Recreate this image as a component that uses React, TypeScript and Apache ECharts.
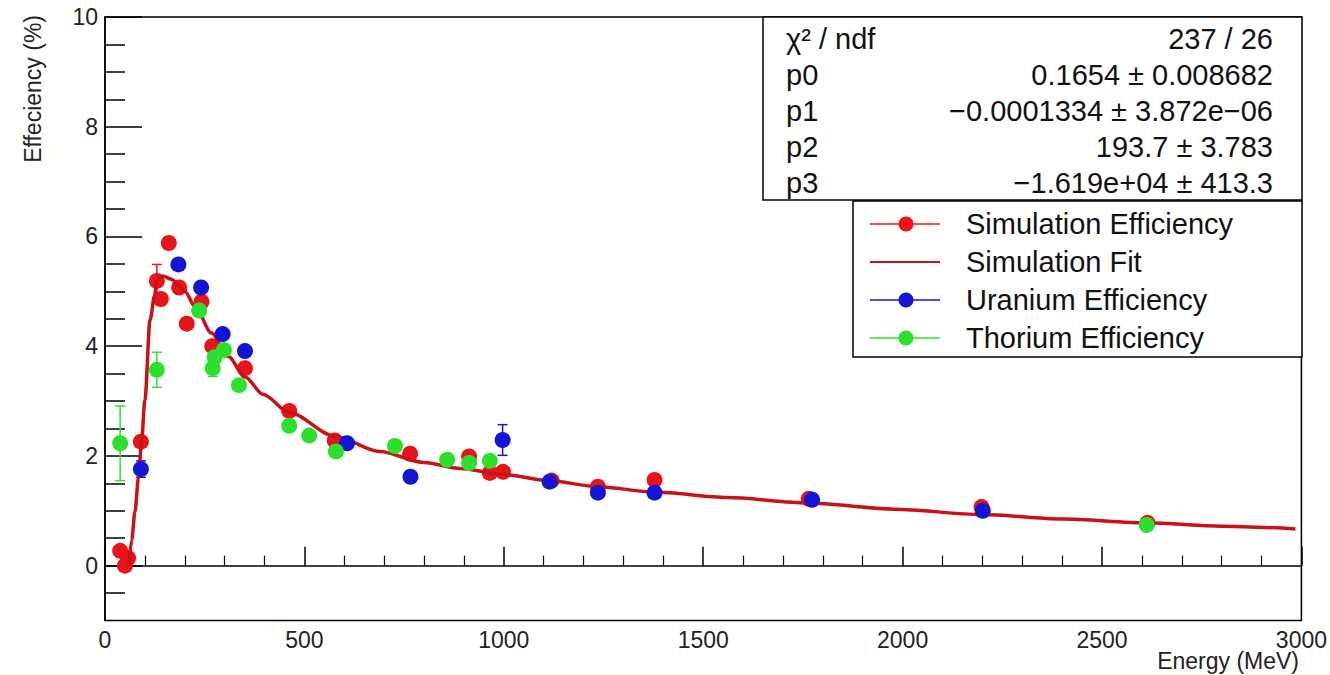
import React, { useEffect, useRef } from "react";
import * as echarts from "echarts";

// ---- data ----
const simEnergy = [38, 50, 58, 90, 130, 140, 160, 186, 205, 242, 269, 351, 462, 576, 765, 913, 965, 998, 1120, 1236, 1378, 1765, 2198, 2614];
const simEff = [0.27, 0.0, 0.14, 2.26, 5.19, 4.86, 5.88, 5.07, 4.41, 4.81, 4.0, 3.6, 2.82, 2.28, 2.04, 1.99, 1.69, 1.71, 1.55, 1.44, 1.56, 1.22, 1.07, 0.78];
const simErr = [0.05, 0.05, 0.05, 0.08, 0.3, 0.1, 0.1, 0.1, 0.1, 0.1, 0.1, 0.08, 0.06, 0.06, 0.06, 0.06, 0.05, 0.05, 0.05, 0.05, 0.05, 0.05, 0.05, 0.05];

const uraEnergy = [90, 184, 241, 295, 351, 607, 766, 997, 1115, 1236, 1378, 1773, 2201];
const uraEff = [1.76, 5.49, 5.07, 4.22, 3.91, 2.23, 1.62, 2.29, 1.53, 1.33, 1.33, 1.2, 1.0];
const uraErr = [0.15, 0.1, 0.08, 0.08, 0.06, 0.06, 0.05, 0.28, 0.04, 0.04, 0.04, 0.04, 0.04];

const thoEnergy = [38, 130, 236, 270, 275, 298, 336, 462, 512, 579, 727, 858, 913, 965, 2612];
const thoEff = [2.23, 3.57, 4.65, 3.6, 3.8, 3.93, 3.29, 2.55, 2.37, 2.08, 2.18, 1.93, 1.87, 1.91, 0.74];
const thoErr = [0.68, 0.32, 0.1, 0.15, 0.1, 0.1, 0.05, 0.05, 0.05, 0.05, 0.05, 0.05, 0.05, 0.05, 0.05];

const fitEnergy = [60, 67, 75, 84, 92, 100, 113, 124, 130, 145, 167, 185, 200, 226, 267, 309, 351, 397, 462, 576, 689, 800, 890, 1000, 1110, 1236, 1378, 1560, 1762, 1980, 2198, 2400, 2614, 2800, 2985];
const fitEff = [0, 0.47, 0.98, 1.6, 2.3, 3.02, 4.48, 4.9, 5.2, 5.28, 5.22, 5.1, 5.0, 4.72, 4.24, 3.81, 3.44, 3.12, 2.79, 2.36, 2.08, 1.88, 1.77, 1.66, 1.55, 1.44, 1.34, 1.24, 1.14, 1.03, 0.93, 0.85, 0.78, 0.72, 0.67];

const yMajor = [0, 2, 4, 6, 8, 10];
const yMinor = [-0.5, 0.5, 1, 1.5, 2.5, 3, 3.5, 4.5, 5, 5.5, 6.5, 7, 7.5, 8.5, 9, 9.5];

const statsRows = [
  ["χ² / ndf", "237 / 26"],
  ["p0", "0.1654 ± 0.008682"],
  ["p1", "−0.0001334 ± 3.872e−06"],
  ["p2", "193.7 ± 3.783"],
  ["p3", "−1.619e+04 ± 413.3"],
];

const legendItems = [
  { name: "Simulation Efficiency", color: "#e8141a", dot: true },
  { name: "Simulation Fit", color: "#c0141a", dot: false },
  { name: "Uranium Efficiency", color: "#1414d4", dot: true },
  { name: "Thorium Efficiency", color: "#2ee02e", dot: true },
];

const FONT = "'Liberation Sans', Arial, Helvetica, sans-serif";
const RED = "#e8141a";
const BLUE = "#1414d4";
const GREEN = "#2ee02e";
const FITRED = "#c8121a";

function zip3(a: number[], b: number[], c: number[]) {
  return a.map((v, i) => [v, b[i], c[i]]);
}

function errSeries(data: number[][], color: string) {
  return {
    type: "custom",
    z: 2,
    data,
    renderItem: (params: any, api: any) => {
      const x = api.value(0);
      const y = api.value(1);
      const e = api.value(2);
      const t = api.coord([x, y + e]);
      const b = api.coord([x, y - e]);
      const w = 5;
      const st = { stroke: color, lineWidth: 1.5 };
      return {
        type: "group",
        children: [
          { type: "line", shape: { x1: t[0], y1: t[1], x2: b[0], y2: b[1] }, style: st },
          { type: "line", shape: { x1: t[0] - w, y1: t[1], x2: t[0] + w, y2: t[1] }, style: st },
          { type: "line", shape: { x1: b[0] - w, y1: b[1], x2: b[0] + w, y2: b[1] }, style: st },
        ],
      };
    },
  };
}

export default function App() {
  const ref = useRef<HTMLDivElement>(null);
  useEffect(() => {
    if (!ref.current) return;
    const chart = echarts.init(ref.current, null, { renderer: "svg" });

    const gLeft = 105, gTop = 17, gRight = 1302, gBottom = 620.5;

    const graphics: any[] = [];
    graphics.push({
      type: "text",
      x: 33,
      y: 15,
      rotation: Math.PI / 2,
      style: { text: "Effeciency (%)", font: `23px ${FONT}`, fill: "#222", align: "right", verticalAlign: "middle" },
      z: 10,
    });
    graphics.push({
      type: "text",
      x: 1299,
      y: 661,
      style: { text: "Energy (MeV)", font: `23px ${FONT}`, fill: "#222", align: "right", verticalAlign: "middle" },
      z: 10,
    });
    const sx = 763, sy = gTop, sw = gRight - 763, sh = 183;
    graphics.push({
      type: "rect",
      shape: { x: sx, y: sy, width: sw, height: sh },
      style: { fill: "#fff", stroke: "#000", lineWidth: 1.5 },
      z: 20,
    });
    statsRows.forEach((r, i) => {
      const yy = 39 + 36 * i;
      graphics.push({ type: "text", x: 786, y: yy, z: 21, style: { text: r[0], font: `29px ${FONT}`, fill: "#111", align: "left", verticalAlign: "middle" } });
      graphics.push({ type: "text", x: 1273, y: yy, z: 21, style: { text: r[1], font: `29px ${FONT}`, fill: "#111", align: "right", verticalAlign: "middle" } });
    });
    const lx = 853, ly = 201, lw = gRight - 853, lh = 156;
    graphics.push({
      type: "rect",
      shape: { x: lx, y: ly, width: lw, height: lh },
      style: { fill: "#fff", stroke: "#000", lineWidth: 1.5 },
      z: 20,
    });
    legendItems.forEach((it, i) => {
      const yy = 224 + 38 * i;
      graphics.push({ type: "line", z: 21, shape: { x1: 870, y1: yy, x2: 940, y2: yy }, style: { stroke: it.color, lineWidth: it.dot ? 1.5 : 2 } });
      if (it.dot) graphics.push({ type: "circle", z: 22, shape: { cx: 906, cy: yy, r: 7.5 }, style: { fill: it.color } });
      graphics.push({ type: "text", x: 966, y: yy, z: 21, style: { text: it.name, font: `29px ${FONT}`, fill: "#111", align: "left", verticalAlign: "middle" } });
    });

    const axisLineStyle = { color: "#000", width: 1.5 };

    chart.setOption({
      animation: false,
      backgroundColor: "#fff",
      grid: {
        left: gLeft,
        top: gTop,
        width: gRight - gLeft,
        height: gBottom - gTop,
        show: true,
        borderColor: "#000",
        borderWidth: 1.5,
        containLabel: false,
      },
      xAxis: {
        type: "value",
        min: 0,
        max: 3000,
        interval: 500,
        axisLine: { show: true, lineStyle: axisLineStyle },
        axisTick: { show: true, inside: true, length: 19, lineStyle: { color: "#000", width: 1.5 } },
        minorTick: { show: true, splitNumber: 5, length: 10, lineStyle: { color: "#000", width: 1.2 } },
        splitLine: { show: false },
        minorSplitLine: { show: false },
        axisLabel: { fontSize: 23, fontFamily: FONT, color: "#222", margin: 8, formatter: (v: number) => String(v) },
      },
      yAxis: [
        {
          type: "value",
          min: -1,
          max: 10,
          axisLine: { show: true, lineStyle: axisLineStyle },
          axisTick: { show: true, inside: true, length: 37, customValues: yMajor, lineStyle: { color: "#000", width: 1.5 } },
          axisLabel: { show: true, customValues: yMajor, fontSize: 23, fontFamily: FONT, color: "#222", margin: 7, formatter: (v: number) => String(v) },
          splitLine: { show: false },
        },
        {
          type: "value",
          min: -1,
          max: 10,
          position: "left",
          axisLine: { show: false },
          axisTick: { show: true, inside: true, length: 20, customValues: yMinor, lineStyle: { color: "#000", width: 1.5 } },
          axisLabel: { show: false },
          splitLine: { show: false },
        },
      ],
      series: [
        errSeries(zip3(simEnergy, simEff, simErr), RED),
        {
          type: "scatter",
          name: "Simulation Efficiency",
          z: 3,
          symbol: "circle",
          symbolSize: 16,
          itemStyle: { color: RED, opacity: 1 },
          data: simEnergy.map((e, i) => [e, simEff[i]]),
        },
        {
          type: "line",
          name: "Simulation Fit",
          z: 4,
          showSymbol: false,
          symbol: "none",
          smooth: 0.3,
          smoothMonotone: "x",
          lineStyle: { color: FITRED, width: 3.5 },
          data: fitEnergy.map((e, i) => [e, fitEff[i]]),
        },
        errSeries(zip3(uraEnergy, uraEff, uraErr), BLUE),
        {
          type: "scatter",
          name: "Uranium Efficiency",
          z: 5,
          symbolSize: 16,
          itemStyle: { color: BLUE, opacity: 1 },
          data: uraEnergy.map((e, i) => [e, uraEff[i]]),
        },
        errSeries(zip3(thoEnergy, thoEff, thoErr), GREEN),
        {
          type: "scatter",
          name: "Thorium Efficiency",
          z: 6,
          symbolSize: 16,
          itemStyle: { color: GREEN, opacity: 1 },
          data: thoEnergy.map((e, i) => [e, thoEff[i]]),
        },
      ],
      graphic: graphics,
    });

    return () => chart.dispose();
  }, []);

  return <div ref={ref} style={{ position: "fixed", left: 0, top: 0, width: 1330, height: 675 }} />;
}
